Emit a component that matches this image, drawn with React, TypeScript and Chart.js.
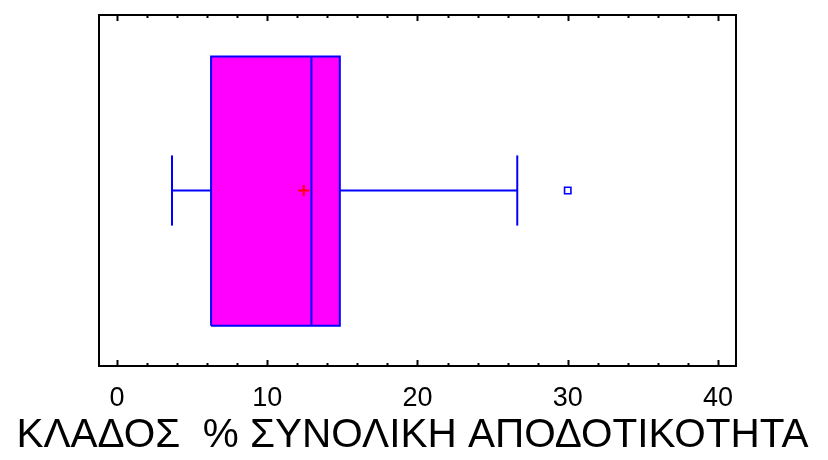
import { useEffect, useRef } from 'react';
import { Chart, registerables } from 'chart.js';

Chart.register(...registerables);

// Box-plot summary: lower whisker, Q1, median, Q3, upper whisker
const fiveNumberSummary = [3.66, 6.26, 12.94, 14.83, 26.64];
const meanValues = [12.43];
const outlierValues = [30.0];
const majorTicks = [0, 10, 20, 30, 40];
const minorTicks = [2, 4, 6, 8, 12, 14, 16, 18, 22, 24, 26, 28, 32, 34, 36, 38];
const axisTitle = 'ΚΛΑΔΟΣ  % ΣΥΝΟΛΙΚΗ ΑΠΟΔΟΤΙΚΟΤΗΤΑ';

// Vertical layout of the box inside the 0..1 helper axis
const BOX_LO = 0.115;
const BOX_HI = 0.882;
const CAP_LO = 0.4;
const CAP_HI = 0.6;
const MID = 0.5;

const FONT = 'Arial, "Liberation Sans", sans-serif';
const BLUE = '#0000ff';
const MAGENTA = '#ff00ff';
const RED = '#ff0000';

const framePlugin = {
  id: 'frameTicks',
  afterDatasetsDraw(chart: any) {
    const { ctx, chartArea, scales } = chart;
    const { left, right, top, bottom } = chartArea;
    const x = scales.x;
    ctx.save();
    ctx.strokeStyle = '#000';
    ctx.lineWidth = 2;
    ctx.strokeRect(left, top, right - left, bottom - top);
    ctx.beginPath();
    majorTicks.forEach((v) => {
      const px = Math.round(x.getPixelForValue(v)) + 0.5;
      ctx.moveTo(px, bottom);
      ctx.lineTo(px, bottom - 6);
      ctx.moveTo(px, top);
      ctx.lineTo(px, top + 6);
    });
    minorTicks.forEach((v) => {
      const px = Math.round(x.getPixelForValue(v)) + 0.5;
      ctx.moveTo(px, bottom);
      ctx.lineTo(px, bottom - 3);
      ctx.moveTo(px, top);
      ctx.lineTo(px, top + 3);
    });
    ctx.stroke();
    ctx.restore();
  },
  afterDraw(chart: any) {
    // axis title, drawn at its natural width below the tick labels
    const { ctx, chartArea } = chart;
    ctx.save();
    ctx.fillStyle = '#000';
    ctx.font = `40.5px ${FONT}`;
    ctx.textAlign = 'center';
    ctx.textBaseline = 'alphabetic';
    ctx.fillText(axisTitle, (chartArea.left + chartArea.right) / 2 - 5, 447);
    ctx.restore();
  },
};

function segment(points: { x: number; y: number }[], color: string, width = 2) {
  return {
    data: points,
    borderColor: color,
    borderWidth: width,
    pointRadius: 0,
    pointHoverRadius: 0,
    fill: false,
    tension: 0,
  };
}

export default function App() {
  const canvasRef = useRef<HTMLCanvasElement | null>(null);

  useEffect(() => {
    const canvas = canvasRef.current;
    if (!canvas) return;
    const [lo, q1, med, q3, hi] = fiveNumberSummary;

    const datasets: any[] = [
      // mean marker
      {
        data: meanValues.map((m) => ({ x: m, y: MID })),
        showLine: false,
        pointStyle: 'cross',
        pointRadius: 5.5,
        pointBorderWidth: 2,
        pointBorderColor: RED,
        pointBackgroundColor: RED,
      },
      // median
      segment([{ x: med, y: BOX_LO }, { x: med, y: BOX_HI }], BLUE),
      // box outline
      segment(
        [
          { x: q1, y: BOX_LO },
          { x: q3, y: BOX_LO },
          { x: q3, y: BOX_HI },
          { x: q1, y: BOX_HI },
          { x: q1, y: BOX_LO },
        ],
        BLUE
      ),
      // whiskers
      segment([{ x: lo, y: MID }, { x: q1, y: MID }], BLUE),
      segment([{ x: lo, y: CAP_LO }, { x: lo, y: CAP_HI }], BLUE),
      segment([{ x: q3, y: MID }, { x: hi, y: MID }], BLUE),
      segment([{ x: hi, y: CAP_LO }, { x: hi, y: CAP_HI }], BLUE),
      // outliers
      {
        data: outlierValues.map((v) => ({ x: v, y: MID })),
        showLine: false,
        pointStyle: 'rect',
        pointRadius: 4.5,
        pointBorderWidth: 1.6,
        pointBorderColor: BLUE,
        pointBackgroundColor: '#ffffff',
      },
      // box fill
      {
        data: [{ x: q1, y: BOX_LO }, { x: q3, y: BOX_LO }],
        borderWidth: 0,
        borderColor: 'rgba(0,0,0,0)',
        pointRadius: 0,
        fill: { value: BOX_HI },
        backgroundColor: MAGENTA,
      },
    ];

    const chart = new Chart(canvas, {
      type: 'line',
      data: { datasets },
      plugins: [framePlugin],
      options: {
        animation: false,
        responsive: true,
        maintainAspectRatio: false,
        layout: { padding: { left: 99, right: 92, top: 15, bottom: 0 } },
        plugins: {
          legend: { display: false },
          tooltip: { enabled: false },
        },
        scales: {
          x: {
            type: 'linear',
            min: -1.2,
            max: 41.2,
            afterBuildTicks: (s: any) => {
              s.ticks = majorTicks.map((v) => ({ value: v }));
            },
            afterFit: (s: any) => {
              s.height = 94;
            },
            grid: { display: false, drawTicks: false },
            border: { display: false },
            ticks: {
              color: '#000',
              font: { family: FONT, size: 27 },
              padding: 16,
              maxRotation: 0,
              autoSkip: false,
            },
            title: { display: false },
          },
          y: { type: 'linear', min: 0, max: 1, display: false },
        },
      },
    });

    return () => chart.destroy();
  }, []);

  return (
    <div style={{ position: 'fixed', left: 0, top: 0, width: 828, height: 460, background: '#fff' }}>
      <canvas ref={canvasRef} />
    </div>
  );
}
